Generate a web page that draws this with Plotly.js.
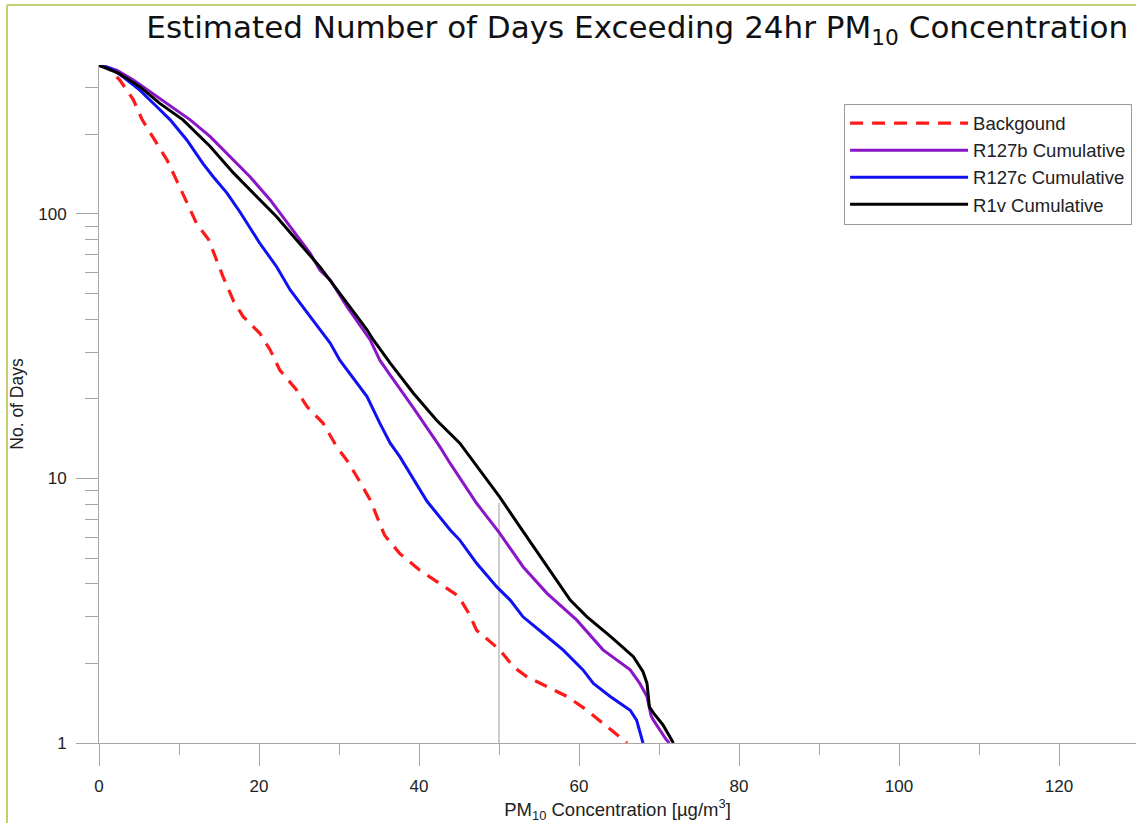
<!DOCTYPE html>
<html>
<head>
<meta charset="utf-8">
<script src="https://cdn.plot.ly/plotly-3.0.1.min.js"></script>
<style>html,body{margin:0;padding:0;background:#fff;}#chart{width:1136px;height:823px;}</style>
</head>
<body>
<div id="chart"></div>
<script>
// ---- data ----
const seriesNames = ["Backgound", "R127b Cumulative", "R127c Cumulative", "R1v Cumulative"];

const bgX = [0, 1, 2.6, 4.3, 5.4, 7, 8.5, 9.7, 11, 12.2, 13.7, 14.7, 15.5, 16.8, 18, 20.1, 21.4, 22.6, 24.7, 26, 28, 29.7, 31, 32.2, 33.9, 35.7, 37.6, 40.1, 42.6, 44.9, 46.2, 47.2, 50.1, 51.8, 53.5, 56, 58.5, 61, 63, 65.5, 66];
const bgY = [365, 360, 321, 270, 227, 190, 160, 134, 110, 92, 80, 67, 58, 47, 41, 35.4, 30.6, 25.7, 21.6, 18.7, 16.2, 13.2, 11.7, 10.2, 8.3, 6.1, 5.2, 4.5, 4.0, 3.6, 3.1, 2.67, 2.25, 1.94, 1.78, 1.63, 1.5, 1.33, 1.19, 1.03, 1];

const r127bX = [0, 2.2, 4.3, 6.4, 8.9, 11.4, 13.9, 16.4, 18.9, 21.4, 22.6, 23.9, 26.4, 27.6, 28.9, 31, 33.9, 35.1, 36.4, 39.3, 42.6, 43.9, 47.2, 50.1, 53, 56, 59.7, 63, 66.4, 67.6, 68.5, 69.0, 69.3, 70.9, 71.3];
const r127bY = [365, 350, 321, 290, 258, 227, 196, 165, 138, 113, 100.6, 89.6, 71, 61.4, 56.3, 44.6, 33.4, 28, 24.6, 18.5, 13.2, 11.4, 8.06, 6.2, 4.64, 3.68, 2.92, 2.25, 1.89, 1.68, 1.5, 1.27, 1.22, 1.03, 1];

const r127cX = [0, 1.5, 3.0, 5.1, 7.2, 8.9, 11, 13, 14.3, 16, 17.6, 20.1, 22.2, 23.9, 26.4, 28.9, 30.1, 31, 33.5, 35.1, 36.4, 37.6, 41, 43.9, 45.1, 47.2, 49.7, 51.4, 53, 55.5, 58, 60.5, 61.8, 63.9, 66.4, 67.2, 68];
const r127cY = [365, 355, 330, 294, 255, 227, 190, 155, 138, 120, 102, 77.5, 63.2, 51.6, 40.9, 32.5, 28, 25.7, 20.4, 16.2, 13.6, 12.1, 8.2, 6.39, 5.85, 4.78, 3.9, 3.47, 3.0, 2.6, 2.25, 1.89, 1.68, 1.5, 1.33, 1.22, 1];

const r1vX = [0, 2.5, 5.1, 7.6, 10.5, 13.9, 16.8, 19.7, 22.2, 24.7, 27.6, 30.1, 33.5, 34.3, 36.4, 39.3, 42.2, 45.1, 47.6, 50.1, 52.6, 55.5, 58.9, 61, 64, 66.8, 68, 68.5, 68.8, 69.3, 70.5, 71.8];
const r1vY = [365, 340, 303, 262, 227, 180, 143, 116, 97.7, 79.8, 63.2, 50.1, 36.5, 33.4, 27.3, 21, 16.6, 13.6, 10.8, 8.5, 6.58, 4.92, 3.47, 3.0, 2.52, 2.12, 1.86, 1.68, 1.37, 1.3, 1.17, 1];

const thresholdX = [50, 50];
const thresholdY = [1, 8.1];

const xTickVals = [0, 20, 40, 60, 80, 100, 120];
const yTickVals = [1, 10, 100];

// ---- styles ----
const axisGrey = "#a6a6a6";
const tickFont = {family: "Liberation Sans, Arial, sans-serif", size: 17, color: "#222"};

const traces = [
  {x: thresholdX, y: thresholdY, mode: "lines", line: {color: "#9a9a9a", width: 1}, showlegend: false, hoverinfo: "skip"},
  {x: bgX, y: bgY, name: seriesNames[0], mode: "lines", line: {color: "#ff1a1a", width: 3.2, dash: "13px,9px"}, legendgroup: "a"},
  {x: r127bX, y: r127bY, name: seriesNames[1], mode: "lines", line: {color: "#8b16c8", width: 3}, legendgroup: "b"},
  {x: r127cX, y: r127cY, name: seriesNames[2], mode: "lines", line: {color: "#1010f5", width: 3}, legendgroup: "c"},
  {x: r1vX, y: r1vY, name: seriesNames[3], mode: "lines", line: {color: "#000000", width: 3}, legendgroup: "d"}
];

const layout = {
  width: 1136, height: 823,
  margin: {l: 99, r: 0, t: 65, b: 80},
  paper_bgcolor: "#ffffff", plot_bgcolor: "#ffffff",
  font: {family: "Liberation Sans, Arial, sans-serif", size: 17, color: "#222"},
  title: {
    text: "Estimated Number of Days Exceeding 24hr PM<sub>10</sub> Concentration",
    font: {family: "DejaVu Sans, Verdana, sans-serif", size: 31, color: "#111"},
    xref: "container", x: 0.993, xanchor: "right",
    yref: "container", y: 0.967, yanchor: "middle"
  },
  xaxis: {
    range: [0, 129.625], tickvals: xTickVals, ticktext: xTickVals.map(String),
    showgrid: false, zeroline: false, showline: true, linecolor: axisGrey, linewidth: 1,
    ticks: "outside", ticklen: 22, tickcolor: axisGrey, tickwidth: 1, tickfont: tickFont,
    ticklabelstandoff: 6,
    minor: {dtick: 10, ticklen: 11, tickcolor: axisGrey, tickwidth: 1, showgrid: false},
    title: {text: "PM<sub>10</sub> Concentration [µg/m<sup>3</sup>]", font: {family: "Liberation Sans, Arial, sans-serif", size: 18.5, color: "#222"}, standoff: 3}
  },
  yaxis: {
    type: "log", range: [0, 2.5633], tickvals: yTickVals, ticktext: yTickVals.map(String),
    showgrid: false, zeroline: false, showline: true, linecolor: axisGrey, linewidth: 1,
    ticks: "outside", ticklen: 22, tickcolor: axisGrey, tickwidth: 1, tickfont: tickFont,
    ticklabelstandoff: 6,
    minor: {dtick: "D1", ticklen: 13, tickcolor: axisGrey, tickwidth: 1, showgrid: false},
    title: {text: "No. of Days", font: {family: "Liberation Sans, Arial, sans-serif", size: 17.5, color: "#222"}, standoff: 10}
  },
  legend: {
    x: 0.7185, y: 0.943, xanchor: "left", yanchor: "top",
    bgcolor: "#ffffff", bordercolor: "#9a9a9a", borderwidth: 1,
    font: {family: "Liberation Sans, Arial, sans-serif", size: 18.5, color: "#222"},
    itemwidth: 118, tracegroupgap: 0
  },
  shapes: [
    {type: "line", xref: "paper", yref: "paper", x0: -0.0887, x1: -0.0887, y0: -0.2, y1: 1.0885, line: {color: "#c3cf6c", width: 2}},
    {type: "line", xref: "paper", yref: "paper", x0: -0.0887, x1: 1.01, y0: 1.0885, y1: 1.0885, line: {color: "#c3cf6c", width: 2}}
  ]
};

Plotly.newPlot("chart", traces, layout, {displayModeBar: false, staticPlot: true});
</script>
</body>
</html>
